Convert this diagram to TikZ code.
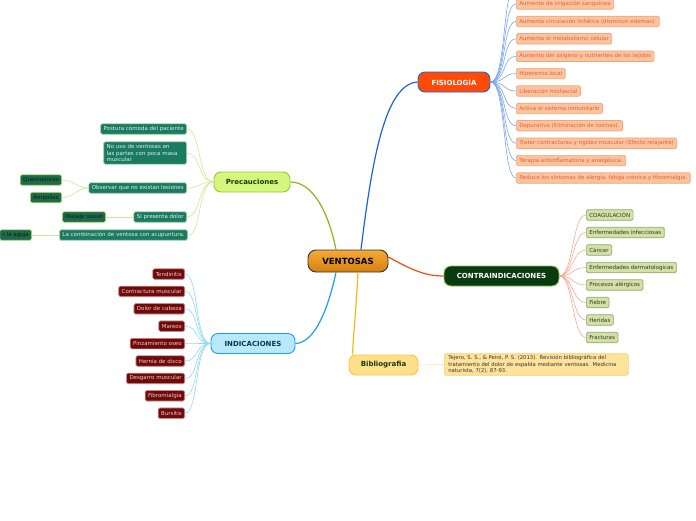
\documentclass[tikz,border=0pt]{standalone}
\usepackage{fontspec}
\setmainfont{DejaVu Sans}
\usetikzlibrary{calc}
\hyphenpenalty=10000
\exhyphenpenalty=10000
\definecolor{fisline}{HTML}{1F62D6}
\definecolor{fischline}{HTML}{7AA4EC}
\definecolor{fisfill}{HTML}{F9C49E}
\definecolor{fisdraw}{HTML}{F3A47C}
\definecolor{fistext}{HTML}{EE5E36}
\definecolor{precline}{HTML}{8AB81A}
\definecolor{precchline}{HTML}{CDE892}
\definecolor{precfill}{HTML}{D4F77C}
\definecolor{precdraw}{HTML}{96C83C}
\definecolor{prectext}{HTML}{1A3A10}
\definecolor{pcfill}{HTML}{1B7A62}
\definecolor{pcdraw}{HTML}{A8D8A0}
\definecolor{pctext}{HTML}{DDF2E6}
\definecolor{pgfill}{HTML}{1E6A4A}
\definecolor{pgdraw}{HTML}{B8E070}
\definecolor{pgtext}{HTML}{0A2216}
\definecolor{indline}{HTML}{18A0E8}
\definecolor{indchline}{HTML}{8ED8F8}
\definecolor{indfill}{HTML}{B8E8FC}
\definecolor{inddraw}{HTML}{1AA0E0}
\definecolor{indtext}{HTML}{0A3A4A}
\definecolor{icfill}{HTML}{6E0A0A}
\definecolor{icdraw}{HTML}{C88A8A}
\definecolor{ictext}{HTML}{F4CCCC}
\definecolor{conline}{HTML}{F04A14}
\definecolor{conchline}{HTML}{F8A890}
\definecolor{confill}{HTML}{0A3A10}
\definecolor{condraw}{HTML}{8AC050}
\definecolor{ccfill}{HTML}{D4E0A8}
\definecolor{ccdraw}{HTML}{90A868}
\definecolor{cctext}{HTML}{2E3A1E}
\definecolor{bibline}{HTML}{F8B818}
\definecolor{bibchline}{HTML}{FCE2A4}
\definecolor{bibfill}{HTML}{FFE08A}
\definecolor{bibdraw}{HTML}{F8C448}
\definecolor{refill}{HTML}{FFE39A}
\definecolor{redraw}{HTML}{F8D070}
\definecolor{rootdraw}{HTML}{333333}
\definecolor{roottop}{HTML}{F5AA38}
\definecolor{rootbot}{HTML}{D6800E}
\definecolor{fisnodefill}{HTML}{FF4A0A}
\tikzset{
  small/.style={font=\fontsize{5.5}{6.6}\selectfont},
  mainbox/.style={rounded corners=7pt, line width=0.9pt, minimum height=20pt, inner sep=0pt, font=\fontsize{7}{8}\selectfont\bfseries},
  childbox/.style={small, rounded corners=1.5pt, line width=0.7pt, minimum height=10.5pt, inner xsep=3pt, inner ysep=1pt},
  fisch/.style={childbox, fill=fisfill, draw=fisdraw, text=fistext, anchor=west},
  precch/.style={childbox, fill=pcfill, draw=pcdraw, text=pctext, anchor=east},
  precgr/.style={childbox, fill=pgfill, draw=pgdraw, text=pgtext, anchor=east},
  indch/.style={childbox, fill=icfill, draw=icdraw, text=ictext, anchor=east},
  conch/.style={childbox, fill=ccfill, draw=ccdraw, text=cctext, anchor=west},
  mainline/.style={line width=1.2pt},
  chline/.style={line width=0.6pt},
}
\begin{document}
\begin{tikzpicture}[x=1pt,y=-1pt]
\useasboundingbox (0,0) rectangle (696,520);
% main nodes
\node[mainbox, rounded corners=8pt, draw=rootdraw, top color=roottop, bottom color=rootbot, minimum width=80pt, minimum height=22pt, font=\fontsize{8.5}{9}\selectfont\bfseries, text=black] (root) at (348,261) {VENTOSAS};
\node[mainbox, draw=fisline, fill=fisnodefill, text=white, minimum width=72pt] (fis) at (454,82) {FISIOLOGÍA};
\node[mainbox, draw=precdraw, fill=precfill, text=prectext, minimum width=76pt] (prec) at (252,182) {Precauciones};
\node[mainbox, draw=inddraw, fill=indfill, text=indtext, minimum width=84pt] (ind) at (253,343.5) {INDICACIONES};
\node[mainbox, draw=condraw, fill=confill, text=white, minimum width=115pt] (con) at (501.5,276) {CONTRAINDICACIONES};
\node[mainbox, draw=bibdraw, fill=bibfill, text=prectext, minimum width=69pt] (bib) at (383.5,365) {Bibliografia};
\node[small, rounded corners=2pt, line width=0.7pt, draw=redraw, fill=refill, text=black!80, anchor=west, text width=176pt, inner xsep=4pt, inner ysep=2pt, align=left, font=\fontsize{5.3}{6.3}\selectfont] (ref) at (444,364.5) {Tejero, S. S., \& Peiró, P. S. (2013). Revisión bibliográfica del tratamiento del dolor de espalda mediante ventosas. Medicina naturista, 7(2), 87-93.};
% main connectors
\draw[mainline, fisline] ([xshift=13pt]root.north) .. controls (372,160) and (385,84) .. (fis.west);
\draw[mainline, precline] ([xshift=-12pt]root.north) .. controls (328,210) and (312,182) .. (prec.east);
\draw[mainline, indline] ([xshift=-12pt]root.south) .. controls (326,318) and (312,343) .. (ind.east);
\draw[mainline, conline] ([yshift=4pt]root.east) .. controls (412,270) and (425,276) .. (con.west);
\draw[mainline, bibline] ([xshift=10pt]root.south) .. controls (356,310) and (353,340) .. ([xshift=4pt]bib.north west);
\draw[chline, bibchline] (bib.east) -- (ref.west);
% fisiologia children
\foreach \t [count=\i] in {
 {Aumento de irrigación sanguínea},
 {Aumenta circulación linfática (disminuir edemas).},
 {Aumenta el metabolismo celular},
 {Aumento del oxígeno y nutrientes de los tejidos},
 {Hiperemia local},
 {Liberación miofascial},
 {Activa el sistema inmunitario},
 {Depurativo (Eliminación de toxinas).},
 {Tratar contracturas y rigidez muscular (Efecto relajante)},
 {Terapia antiinflamatoria y analgésica.},
 {Reduce los síntomas de alergia, fatiga crónica y fibromialgia.}}{
  \node[fisch] (f\i) at (516,{4+(\i-1)*17.4}) {\t};
  \draw[chline, fischline] (fis.east) .. controls +(16,0) and +(-14,0) .. (f\i.west);
}
\coordinate (f0) at (516,-14);
\draw[chline, fischline] (fis.east) .. controls +(16,0) and +(-14,0) .. (f0);
% precauciones children
\node[precch] (p1) at (187,129) {Postura cómoda del paciente};
\node[precch, text width=77pt, align=left, inner ysep=2.5pt] (p2) at (187,153) {No uso de ventosas en las partes con poca masa muscular};
\node[precch] (p3) at (187,188) {Observar que no existan lesiones};
\node[precch] (p4) at (187,217) {Si presenta dolor};
\node[precch] (p5) at (188,235) {La combinación de ventosa con acupuntura.};
\foreach \i in {1,...,5}{
  \draw[chline, precchline] (prec.west) .. controls +(-16,0) and +(14,0) .. (p\i.east);
}
\node[precgr] (q1) at (62,180) {Quemaduras};
\node[precgr] (q2) at (62,197.5) {Ampollas};
\node[precgr] (q3) at (106,217) {Masaje suave};
\node[precgr] (q4) at (32,235) {r la aguja};
\draw[chline, precchline] (p3.west) .. controls +(-12,0) and +(12,0) .. (q1.east);
\draw[chline, precchline] (p3.west) .. controls +(-12,0) and +(12,0) .. (q2.east);
\draw[chline, precchline] (p4.west) -- (q3.east);
\draw[chline, precchline] (p5.west) -- (q4.east);
% indicaciones children
\foreach \t [count=\i] in {Tendinitis, Contractura muscular, Dolor de cabeza, Mareos, Pinzamiento oseo, Hernia de disco, Desgarro muscular, Fibromialgia, Bursitis}{
  \node[indch] (i\i) at (185,{274+(\i-1)*17.4}) {\t};
  \draw[chline, indchline] (ind.west) .. controls +(-16,0) and +(14,0) .. (i\i.east);
}
% contraindicaciones children
\foreach \t [count=\i] in {COAGULACIÓN, Enfermedades infecciosas, Cáncer, Enfermedades dermatologicas, Procesos alérgicos, Fiebre, Heridas, Fracturas}{
  \node[conch] (c\i) at (586,{215+(\i-1)*17.5}) {\t};
  \draw[chline, conchline] (con.east) .. controls +(14,0) and +(-14,0) .. (c\i.west);
}
\end{tikzpicture}
\end{document}
